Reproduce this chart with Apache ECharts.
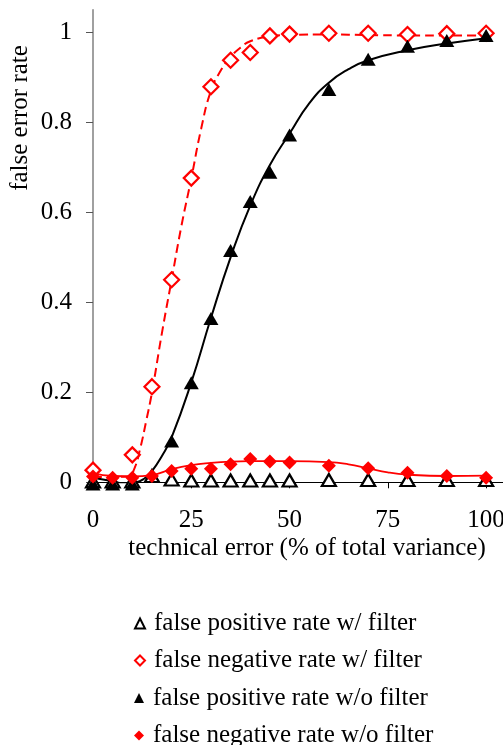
<!DOCTYPE html>
<html>
<head>
<meta charset="utf-8">
<script src="https://cdn.jsdelivr.net/npm/echarts@6/dist/echarts.min.js"></script>
<style>
html,body{margin:0;padding:0;background:#fff;}
#chart{width:503px;height:745px;}
</style>
</head>
<body>
<div id="chart"></div>
<script>
// ---- data ----
const xVals = [0, 5, 10, 15, 20, 25, 30, 35, 40, 45, 50, 60, 70, 80, 90, 100];
const fpWithFilter    = [0.002, 0.002, 0.002, 0.014, 0.006, 0.004, 0.004, 0.004, 0.004, 0.004, 0.004, 0.005, 0.005, 0.005, 0.005, 0.005];
const fnWithFilter    = [0.027, null, 0.061, 0.2125, 0.45, 0.676, 0.879, 0.938, 0.955, 0.992, 0.996, 0.998, 0.998, 0.995, 0.997, 0.998];
const fpWithoutFilter = [-0.004, -0.004, -0.004, null, 0.092, 0.221, 0.364, 0.515, 0.624, 0.689, 0.772, 0.873, 0.940, 0.969, 0.982, 0.993];
const fnWithoutFilter = [0.013, 0.010, 0.010, 0.014, 0.025, 0.030, 0.030, 0.040, 0.052, 0.046, 0.044, 0.037, 0.031, 0.021, 0.014, 0.010];

// fitted curves
const fitFpWithoutX = [0, 4, 8, 11, 13, 15, 17.5, 20, 25, 30, 35, 40, 45, 50, 55, 60, 65, 70, 80, 90, 100];
const fitFpWithoutY = [0.010, 0.004, -0.002, 0.000, 0.008, 0.025, 0.058, 0.100, 0.222, 0.365, 0.500, 0.615, 0.705, 0.775, 0.842, 0.888, 0.918, 0.938, 0.960, 0.975, 0.987];
const fitFnWithX = [0, 5, 9, 10.5, 12, 13.5, 15, 17.5, 20, 22.5, 25, 27.5, 30, 32.5, 35, 37.5, 40, 45, 50, 60, 70, 80, 90, 100];
const fitFnWithY = [0.012, 0.012, 0.013, 0.030, 0.075, 0.135, 0.200, 0.330, 0.450, 0.570, 0.675, 0.785, 0.870, 0.915, 0.945, 0.966, 0.980, 0.991, 0.994, 0.995, 0.994, 0.993, 0.993, 0.993];
const fitFnWithoutX = [0, 5, 10, 15, 20, 25, 30, 35, 40, 50, 60, 65, 70, 75, 80, 90, 100];
const fitFnWithoutY = [0.020, 0.014, 0.013, 0.016, 0.029, 0.038, 0.043, 0.046, 0.047, 0.047, 0.045, 0.040, 0.031, 0.022, 0.017, 0.014, 0.015];

const xTicks = [0, 25, 50, 75, 100];
const yTicks = [0, 0.2, 0.4, 0.6, 0.8, 1];

const seriesNames = [
  'false positive rate w/ filter',
  'false negative rate w/ filter',
  'false positive rate w/o filter',
  'false negative rate w/o filter'
];
const xTitle = 'technical error (% of total variance)';
const yTitle = 'false error rate';

// ---- build ----
const FONT = "'Liberation Serif', 'Times New Roman', serif";
const FS = 25;
function pairs(xs, ys) { return xs.map((x, i) => [x, ys[i]]); }

const chart = echarts.init(document.getElementById('chart'), null, {renderer: 'canvas'});

const legendTops = [606, 643, 680.5, 718];
const legends = seriesNames.map((n, i) => ({
  orient: 'vertical', left: 129, top: legendTops[i],
  itemWidth: 10, itemHeight: 10, itemGap: 0,
  data: [n], selectedMode: false,
  textStyle: {color: '#000', fontFamily: FONT, fontSize: FS, padding: [0, 0, 0, 4]}
}));

const option = {
  animation: false,
  backgroundColor: '#fff',
  grid: {left: 93, right: 0, top: 9.8, bottom: 262.7, containLabel: false, outerBoundsMode: 'none'},
  xAxis: {
    type: 'value', min: 0, max: 104.3,
    axisLine: {show: true, onZero: true, lineStyle: {color: '#000', width: 1}},
    axisTick: {show: true, inside: false, length: 6, customValues: xTicks, lineStyle: {color: '#000', width: 1}},
    axisLabel: {show: true, customValues: xTicks, margin: 26, color: '#000', fontFamily: FONT, fontSize: FS},
    splitLine: {show: false}
  },
  yAxis: {
    type: 'value', min: 0, max: 1.05,
    axisLine: {show: true, lineStyle: {color: '#808080', width: 1.5}},
    axisTick: {show: true, inside: false, length: 7, customValues: yTicks, lineStyle: {color: '#555', width: 1}},
    axisLabel: {show: true, customValues: yTicks, margin: 21, color: '#000', fontFamily: FONT, fontSize: FS},
    splitLine: {show: false}
  },
  legend: legends,
  graphic: [
    {type: 'text', x: 20, y: 118, rotation: Math.PI / 2,
     style: {text: yTitle, fill: '#000', font: FS + "px 'Liberation Serif', 'Times New Roman', serif", textAlign: 'center', textVerticalAlign: 'middle'}},
    {type: 'text', x: 307, y: 548,
     style: {text: xTitle, fill: '#000', font: FS + "px 'Liberation Serif', 'Times New Roman', serif", textAlign: 'center', textVerticalAlign: 'middle'}}
  ],
  series: [
    {type: 'line', name: 'fit1', data: pairs(fitFnWithX, fitFnWithY), smooth: 0.5,
     showSymbol: false, z: 1, silent: true, lineStyle: {color: '#ff0000', width: 2, type: [9, 5]}},
    {type: 'line', name: 'fit2', data: pairs(fitFpWithoutX, fitFpWithoutY), smooth: 0.5,
     showSymbol: false, z: 1, silent: true, lineStyle: {color: '#000', width: 2}},
    {type: 'line', name: 'fit3', data: pairs(fitFnWithoutX, fitFnWithoutY), smooth: 0.5,
     showSymbol: false, z: 1, silent: true, lineStyle: {color: '#ff0000', width: 1.8}},
    {type: 'scatter', name: seriesNames[0], data: pairs(xVals, fpWithFilter), clip: false, z: 3,
     symbol: 'triangle', symbolSize: [14, 12],
     itemStyle: {color: '#fff', borderColor: '#000', borderWidth: 2.2, opacity: 1}},
    {type: 'scatter', name: seriesNames[1], data: pairs(xVals, fnWithFilter), clip: false, z: 3,
     symbol: 'diamond', symbolSize: [15, 15],
     itemStyle: {color: '#fff', borderColor: '#ff0000', borderWidth: 2.2, opacity: 1}},
    {type: 'scatter', name: seriesNames[2], data: pairs(xVals, fpWithoutFilter), clip: false, z: 3,
     symbol: 'triangle', symbolSize: [15, 13],
     itemStyle: {color: '#000', opacity: 1}},
    {type: 'scatter', name: seriesNames[3], data: pairs(xVals, fnWithoutFilter), clip: false, z: 3,
     symbol: 'diamond', symbolSize: [14, 14],
     itemStyle: {color: '#ff0000', opacity: 1}}
  ]
};
chart.setOption(option);
</script>
</body>
</html>
